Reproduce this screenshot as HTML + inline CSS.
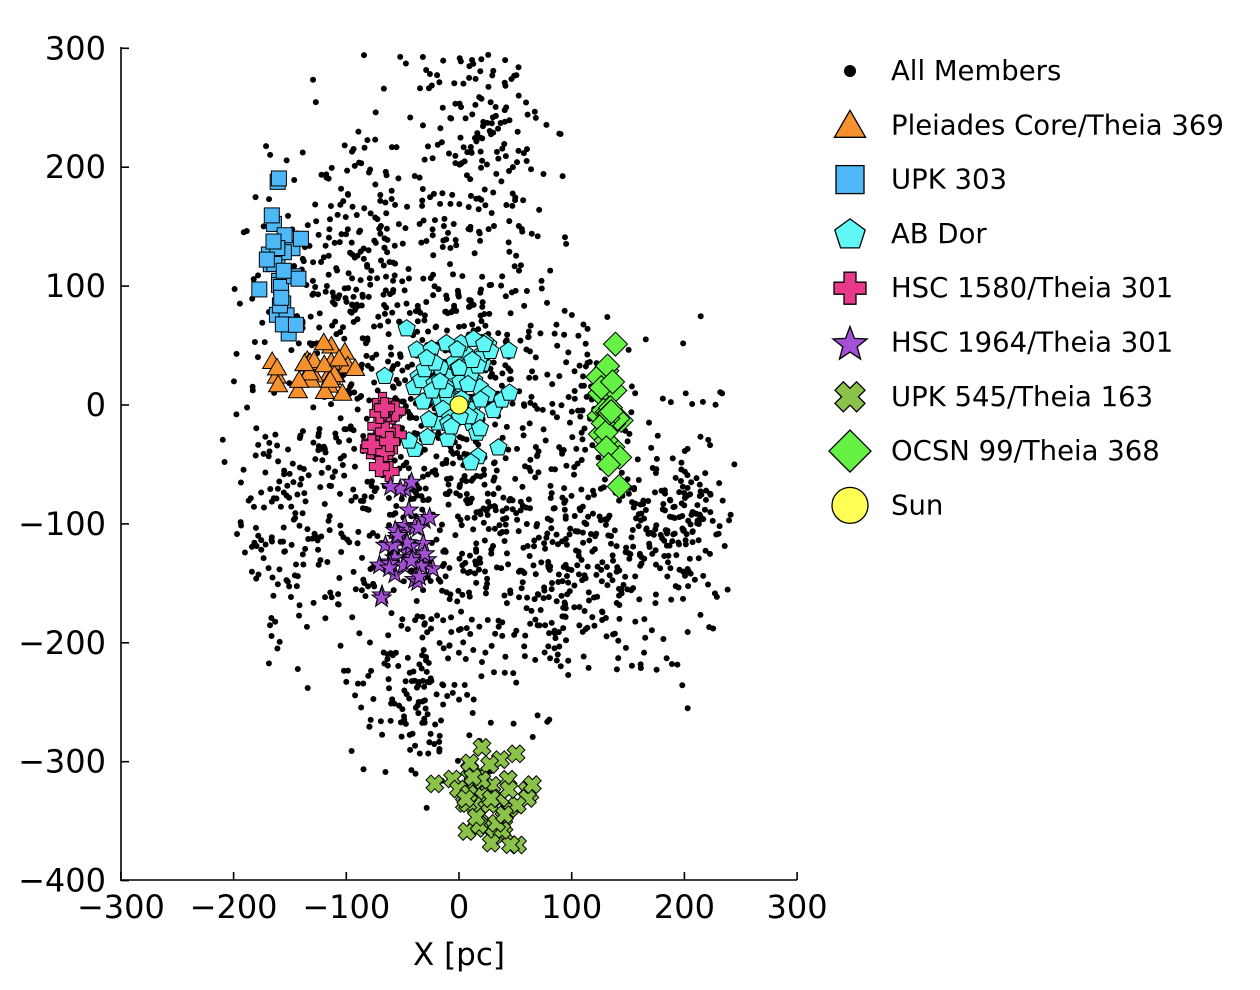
<!DOCTYPE html>
<html><head><meta charset="utf-8"><style>
html,body{margin:0;padding:0;background:#fff;}
svg{display:block;font-family:"DejaVu Sans","Liberation Sans",sans-serif;}
</style></head><body>
<svg id="s" width="1260" height="990" viewBox="0 0 1260 990" xmlns="http://www.w3.org/2000/svg">
<g id="pts"></g>
<g id="grp"></g>
<g stroke="#000" stroke-width="1.6" fill="none">
<line x1="121" y1="47" x2="121" y2="881"/>
<line x1="120" y1="880" x2="797" y2="880"/>
</g>
<g id="ticks" stroke="#000" stroke-width="1.6"></g>
<g font-size="32" fill="#000" id="lbl"></g>
<text x="459" y="965" font-size="31" text-anchor="middle">X [pc]</text>
<g id="leg" font-size="27.5"></g>
</svg>
<script>
var NS="http://www.w3.org/2000/svg";
function el(t,a,p){var e=document.createElementNS(NS,t);for(var k in a)e.setAttribute(k,a[k]);(p||document.getElementById('pts')).appendChild(e);return e;}
function X(v){return 459+v*1.127;} function Y(v){return 405-v*1.189;}
var st=987654321;function r(){st|=0;st=st+0x6D2B79F5|0;var t=Math.imul(st^st>>>15,1|st);t=t+Math.imul(t^t>>>7,61|t)^t;return ((t^t>>>14)>>>0)/4294967296;}
function g(){return Math.sqrt(-2*Math.log(r()+1e-9))*Math.cos(6.2832*r());}
var tk=document.getElementById('ticks'),lb=document.getElementById('lbl');
function txt(x,y,s,anc,p){var t=el('text',{x:x,y:y,'text-anchor':anc},p);t.textContent=s;}
for(var v=-300;v<=300;v+=100){el('line',{x1:X(v),y1:880,x2:X(v),y2:872},tk);txt(X(v),918,v<0?'\u2212'+(-v):''+v,'middle',lb);}
for(var v=-400;v<=300;v+=100){el('line',{x1:121,y1:Y(v),x2:129,y2:Y(v)},tk);txt(106,Y(v)+11,v<0?'\u2212'+(-v):''+v,'end',lb);}
var P=document.getElementById('pts');
function dot(x,y){if(x>100&&y>80)return;el('circle',{cx:X(x),cy:Y(y),r:3,fill:'#000'},P);}
function blob(n,cx,cy,sx,sy){for(var i=0;i<n;i++){var x=cx+g()*sx,y=cy+g()*sy;if(x<-210||x>245||y<-400||y>300)continue;dot(x,y);}}
function box(n,x0,x1,y0,y1){for(var i=0;i<n;i++){dot(x0+r()*(x1-x0),y0+r()*(y1-y0));}}
blob(450,-10,60,50,110);
blob(300,0,-90,55,70);
blob(100,30,240,25,35);
blob(200,-100,0,45,90);
blob(100,-120,130,35,45);
blob(250,150,-110,45,55);
blob(70,200,-90,20,20);
blob(120,-40,-250,30,35);
blob(80,-160,-100,25,45);
blob(80,80,-160,25,50);
blob(50,115,10,15,35);
box(150,-200,240,-230,230);
var G=document.getElementById('grp');
function sq(x,y,s,f){return el('rect',{x:x-s/2,y:y-s/2,width:s,height:s,fill:f,stroke:'#000','stroke-width':1},G);}
function poly(x,y,pts,f){return el('polygon',{points:pts.map(function(p){return (x+p[0])+','+(y+p[1]);}).join(' '),fill:f,stroke:'#000','stroke-width':1},G);}
function reg(n,R,rot,inner){var a=[];for(var i=0;i<n*(inner?2:1);i++){var ang=rot+i*Math.PI*2/(n*(inner?2:1));var rr=(inner&&i%2)?R*inner:R;a.push([rr*Math.sin(ang),-rr*Math.cos(ang)]);}return a;}
var tri=reg(3,11,0),pent=reg(5,9,0),star=reg(5,10,0,0.4),dia=reg(4,12,0);
function plus(s,w){return [[-w,-s],[w,-s],[w,-w],[s,-w],[s,w],[w,w],[w,s],[-w,s],[-w,w],[-s,w],[-s,-w],[-w,-w]];}
var pl=plus(10,4);
var cr=[];(function(){var b=plus(9,3.5);b.forEach(function(p){var c=Math.SQRT1_2;cr.push([(p[0]-p[1])*c,(p[0]+p[1])*c]);});})();
function grp(n,cx,cy,sx,sy,fn){for(var i=0;i<n;i++){fn(X(cx+g()*sx),Y(cy+g()*sy));}}
grp(32,-160,120,8,30,function(x,y){sq(x,y,15,'#4db8f5');});
grp(32,-130,28,22,10,function(x,y){poly(x,y,tri,'#f5922f');});
grp(80,-5,10,25,28,function(x,y){poly(x,y,pent,'#60f7f7');});
grp(20,-68,-20,8,15,function(x,y){poly(x,y,pl,'#e8398a');});
grp(40,-50,-120,15,25,function(x,y){poly(x,y,star,'#a34fd6');});
grp(50,25,-335,18,22,function(x,y){poly(x,y,cr,'#8bc34a');});
grp(28,135,-10,8,30,function(x,y){poly(x,y,dia,'#66f244');});
el('circle',{cx:X(0),cy:Y(0),r:9,fill:'#ffff55',stroke:'#000','stroke-width':1},G);
var L=document.getElementById('leg');
var items=[['All Members',function(x,y){el('circle',{cx:x,cy:y,r:6,fill:'#000'},L);}],
['Pleiades Core/Theia 369',function(x,y){el('polygon',{points:reg(3,18,0).map(function(p){return (x+p[0])+','+(y+p[1]+3);}).join(' '),fill:'#f5922f',stroke:'#000','stroke-width':1.3},L);}],
['UPK 303',function(x,y){el('rect',{x:x-14,y:y-14,width:28,height:28,fill:'#4db8f5',stroke:'#000','stroke-width':1.3},L);}],
['AB Dor',function(x,y){el('polygon',{points:reg(5,16,0).map(function(p){return (x+p[0])+','+(y+p[1]+1);}).join(' '),fill:'#60f7f7',stroke:'#000','stroke-width':1.3},L);}],
['HSC 1580/Theia 301',function(x,y){el('polygon',{points:plus(16,6).map(function(p){return (x+p[0])+','+(y+p[1]);}).join(' '),fill:'#e8398a',stroke:'#000','stroke-width':1.3},L);}],
['HSC 1964/Theia 301',function(x,y){el('polygon',{points:reg(5,18,0,0.42).map(function(p){return (x+p[0])+','+(y+p[1]+2);}).join(' '),fill:'#a34fd6',stroke:'#000','stroke-width':1.3},L);}],
['UPK 545/Theia 163',function(x,y){el('polygon',{points:cr.map(function(p){return (x+p[0]*1.7)+','+(y+p[1]*1.7);}).join(' '),fill:'#8bc34a',stroke:'#000','stroke-width':1.3},L);}],
['OCSN 99/Theia 368',function(x,y){el('polygon',{points:reg(4,21,0).map(function(p){return (x+p[0])+','+(y+p[1]);}).join(' '),fill:'#66f244',stroke:'#000','stroke-width':1.3},L);}],
['Sun',function(x,y){el('circle',{cx:x,cy:y,r:18,fill:'#ffff55',stroke:'#000','stroke-width':1.3},L);}]];
items.forEach(function(it,i){var y=71+i*54.3;it[1](850,y);txt(891,y+9,it[0],'start',L);});
</script>
</body></html>
